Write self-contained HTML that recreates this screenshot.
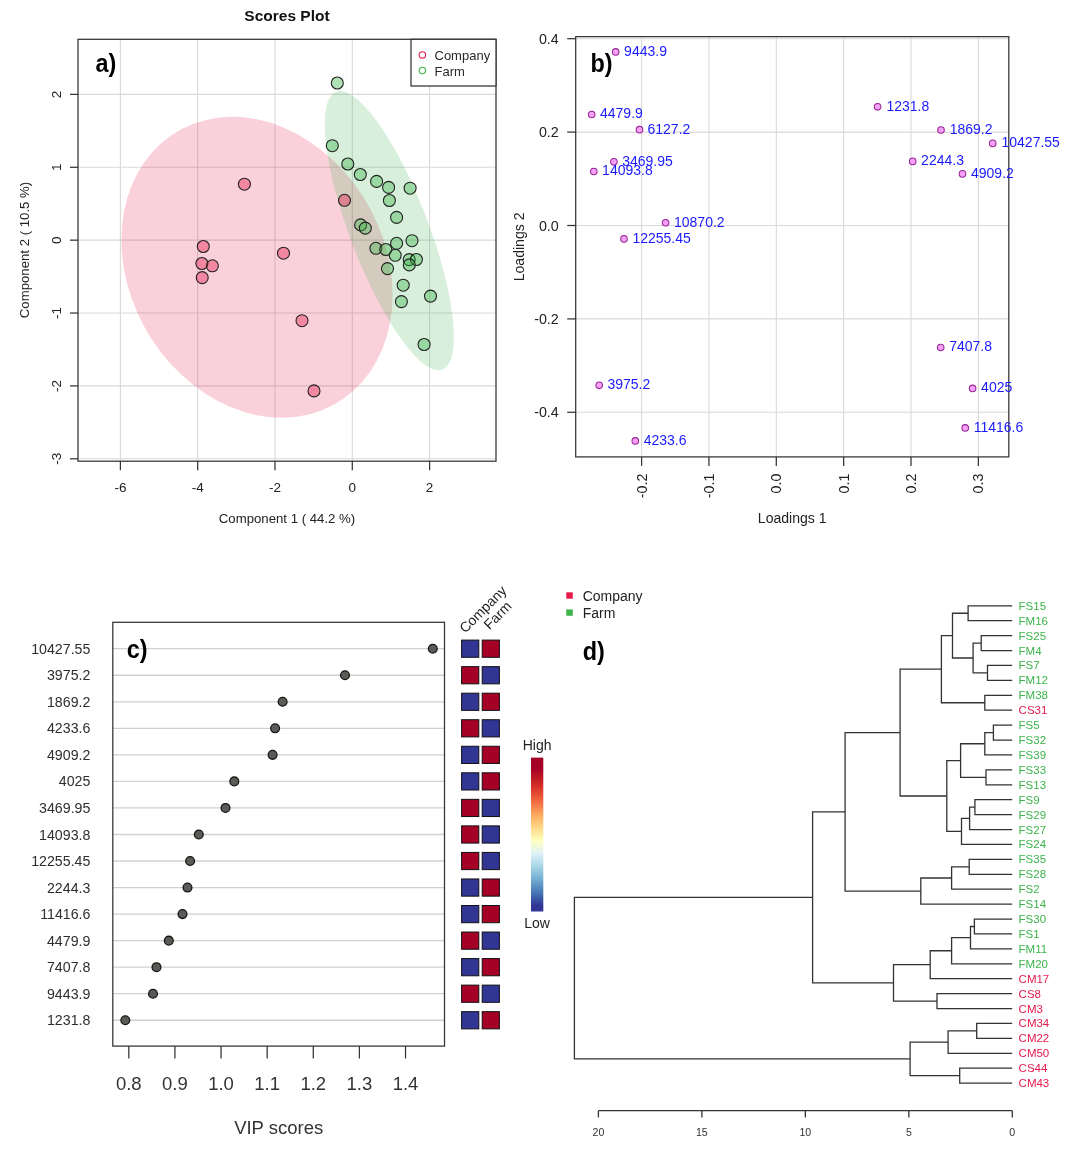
<!DOCTYPE html>
<html><head><meta charset="utf-8"><style>
html,body{margin:0;padding:0;background:#fff;}
svg{display:block;will-change:transform;}
text{font-family:"Liberation Sans", sans-serif;}
</style></head><body>
<svg width="1072" height="1158" viewBox="0 0 1072 1158">
<rect width="1072" height="1158" fill="#fff"/>
<line x1="120.40" y1="39.3" x2="120.40" y2="461.2" stroke="#d9d9d9" stroke-width="1.1"/>
<line x1="197.70" y1="39.3" x2="197.70" y2="461.2" stroke="#d9d9d9" stroke-width="1.1"/>
<line x1="275.00" y1="39.3" x2="275.00" y2="461.2" stroke="#d9d9d9" stroke-width="1.1"/>
<line x1="352.30" y1="39.3" x2="352.30" y2="461.2" stroke="#d9d9d9" stroke-width="1.1"/>
<line x1="429.60" y1="39.3" x2="429.60" y2="461.2" stroke="#d9d9d9" stroke-width="1.1"/>
<line x1="78.0" y1="458.80" x2="496.0" y2="458.80" stroke="#d9d9d9" stroke-width="1.1"/>
<line x1="78.0" y1="385.92" x2="496.0" y2="385.92" stroke="#d9d9d9" stroke-width="1.1"/>
<line x1="78.0" y1="313.04" x2="496.0" y2="313.04" stroke="#d9d9d9" stroke-width="1.1"/>
<line x1="78.0" y1="240.16" x2="496.0" y2="240.16" stroke="#d9d9d9" stroke-width="1.1"/>
<line x1="78.0" y1="167.28" x2="496.0" y2="167.28" stroke="#d9d9d9" stroke-width="1.1"/>
<line x1="78.0" y1="94.40" x2="496.0" y2="94.40" stroke="#d9d9d9" stroke-width="1.1"/>
<circle cx="0" cy="0" r="1" fill="rgba(230,25,75,0.2)" transform="matrix(135.5987 27.4339 0 147.9269 257.00 267.30)"/>
<circle cx="0" cy="0" r="1" fill="rgba(60,180,75,0.2)" transform="matrix(64.5523 106.2704 0 90.5240 389.30 230.60)"/>
<circle cx="244.4" cy="184.2" r="6" fill="rgba(230,25,75,0.4)" stroke="#222" stroke-width="1.1"/>
<circle cx="203.3" cy="246.5" r="6" fill="rgba(230,25,75,0.4)" stroke="#222" stroke-width="1.1"/>
<circle cx="201.9" cy="263.5" r="6" fill="rgba(230,25,75,0.4)" stroke="#222" stroke-width="1.1"/>
<circle cx="212.4" cy="265.8" r="6" fill="rgba(230,25,75,0.4)" stroke="#222" stroke-width="1.1"/>
<circle cx="202.2" cy="277.6" r="6" fill="rgba(230,25,75,0.4)" stroke="#222" stroke-width="1.1"/>
<circle cx="283.5" cy="253.2" r="6" fill="rgba(230,25,75,0.4)" stroke="#222" stroke-width="1.1"/>
<circle cx="302" cy="320.7" r="6" fill="rgba(230,25,75,0.4)" stroke="#222" stroke-width="1.1"/>
<circle cx="314" cy="390.9" r="6" fill="rgba(230,25,75,0.4)" stroke="#222" stroke-width="1.1"/>
<circle cx="344.5" cy="200.3" r="6" fill="rgba(230,25,75,0.4)" stroke="#222" stroke-width="1.1"/>
<circle cx="337.3" cy="83" r="6" fill="rgba(60,180,75,0.4)" stroke="#222" stroke-width="1.1"/>
<circle cx="332.3" cy="145.7" r="6" fill="rgba(60,180,75,0.4)" stroke="#222" stroke-width="1.1"/>
<circle cx="347.8" cy="164" r="6" fill="rgba(60,180,75,0.4)" stroke="#222" stroke-width="1.1"/>
<circle cx="360.3" cy="174.5" r="6" fill="rgba(60,180,75,0.4)" stroke="#222" stroke-width="1.1"/>
<circle cx="376.6" cy="181.4" r="6" fill="rgba(60,180,75,0.4)" stroke="#222" stroke-width="1.1"/>
<circle cx="388.6" cy="187.4" r="6" fill="rgba(60,180,75,0.4)" stroke="#222" stroke-width="1.1"/>
<circle cx="410.1" cy="188.2" r="6" fill="rgba(60,180,75,0.4)" stroke="#222" stroke-width="1.1"/>
<circle cx="389.4" cy="200.5" r="6" fill="rgba(60,180,75,0.4)" stroke="#222" stroke-width="1.1"/>
<circle cx="396.6" cy="217.4" r="6" fill="rgba(60,180,75,0.4)" stroke="#222" stroke-width="1.1"/>
<circle cx="360.6" cy="224.9" r="6" fill="rgba(60,180,75,0.4)" stroke="#222" stroke-width="1.1"/>
<circle cx="365.3" cy="228.1" r="6" fill="rgba(60,180,75,0.4)" stroke="#222" stroke-width="1.1"/>
<circle cx="396.6" cy="243.3" r="6" fill="rgba(60,180,75,0.4)" stroke="#222" stroke-width="1.1"/>
<circle cx="412" cy="240.7" r="6" fill="rgba(60,180,75,0.4)" stroke="#222" stroke-width="1.1"/>
<circle cx="375.9" cy="248.3" r="6" fill="rgba(60,180,75,0.4)" stroke="#222" stroke-width="1.1"/>
<circle cx="385.8" cy="249.5" r="6" fill="rgba(60,180,75,0.4)" stroke="#222" stroke-width="1.1"/>
<circle cx="395.2" cy="255.3" r="6" fill="rgba(60,180,75,0.4)" stroke="#222" stroke-width="1.1"/>
<circle cx="409.2" cy="259.6" r="6" fill="rgba(60,180,75,0.4)" stroke="#222" stroke-width="1.1"/>
<circle cx="416.4" cy="259.5" r="6" fill="rgba(60,180,75,0.4)" stroke="#222" stroke-width="1.1"/>
<circle cx="409.3" cy="264.9" r="6" fill="rgba(60,180,75,0.4)" stroke="#222" stroke-width="1.1"/>
<circle cx="387.5" cy="268.6" r="6" fill="rgba(60,180,75,0.4)" stroke="#222" stroke-width="1.1"/>
<circle cx="403.2" cy="285.2" r="6" fill="rgba(60,180,75,0.4)" stroke="#222" stroke-width="1.1"/>
<circle cx="430.5" cy="296.1" r="6" fill="rgba(60,180,75,0.4)" stroke="#222" stroke-width="1.1"/>
<circle cx="401.4" cy="301.6" r="6" fill="rgba(60,180,75,0.4)" stroke="#222" stroke-width="1.1"/>
<circle cx="424.1" cy="344.5" r="6" fill="rgba(60,180,75,0.4)" stroke="#222" stroke-width="1.1"/>
<rect x="78.0" y="39.3" width="418.0" height="421.9" fill="none" stroke="#333" stroke-width="1.25"/>
<line x1="120.40" y1="461.2" x2="120.40" y2="470.2" stroke="#333" stroke-width="1.25"/>
<text x="120.40" y="491.70" font-size="13.5" text-anchor="middle" fill="#222" font-weight="normal">-6</text>
<line x1="197.70" y1="461.2" x2="197.70" y2="470.2" stroke="#333" stroke-width="1.25"/>
<text x="197.70" y="491.70" font-size="13.5" text-anchor="middle" fill="#222" font-weight="normal">-4</text>
<line x1="275.00" y1="461.2" x2="275.00" y2="470.2" stroke="#333" stroke-width="1.25"/>
<text x="275.00" y="491.70" font-size="13.5" text-anchor="middle" fill="#222" font-weight="normal">-2</text>
<line x1="352.30" y1="461.2" x2="352.30" y2="470.2" stroke="#333" stroke-width="1.25"/>
<text x="352.30" y="491.70" font-size="13.5" text-anchor="middle" fill="#222" font-weight="normal">0</text>
<line x1="429.60" y1="461.2" x2="429.60" y2="470.2" stroke="#333" stroke-width="1.25"/>
<text x="429.60" y="491.70" font-size="13.5" text-anchor="middle" fill="#222" font-weight="normal">2</text>
<line x1="70.0" y1="458.80" x2="78.0" y2="458.80" stroke="#333" stroke-width="1.25"/>
<text x="61.30" y="458.80" font-size="13.5" text-anchor="middle" fill="#222" font-weight="normal" transform="rotate(-90 61.30 458.80)">-3</text>
<line x1="70.0" y1="385.92" x2="78.0" y2="385.92" stroke="#333" stroke-width="1.25"/>
<text x="61.30" y="385.92" font-size="13.5" text-anchor="middle" fill="#222" font-weight="normal" transform="rotate(-90 61.30 385.92)">-2</text>
<line x1="70.0" y1="313.04" x2="78.0" y2="313.04" stroke="#333" stroke-width="1.25"/>
<text x="61.30" y="313.04" font-size="13.5" text-anchor="middle" fill="#222" font-weight="normal" transform="rotate(-90 61.30 313.04)">-1</text>
<line x1="70.0" y1="240.16" x2="78.0" y2="240.16" stroke="#333" stroke-width="1.25"/>
<text x="61.30" y="240.16" font-size="13.5" text-anchor="middle" fill="#222" font-weight="normal" transform="rotate(-90 61.30 240.16)">0</text>
<line x1="70.0" y1="167.28" x2="78.0" y2="167.28" stroke="#333" stroke-width="1.25"/>
<text x="61.30" y="167.28" font-size="13.5" text-anchor="middle" fill="#222" font-weight="normal" transform="rotate(-90 61.30 167.28)">1</text>
<line x1="70.0" y1="94.40" x2="78.0" y2="94.40" stroke="#333" stroke-width="1.25"/>
<text x="61.30" y="94.40" font-size="13.5" text-anchor="middle" fill="#222" font-weight="normal" transform="rotate(-90 61.30 94.40)">2</text>
<text x="287.00" y="523.00" font-size="13.2" text-anchor="middle" fill="#222" font-weight="normal">Component 1 ( 44.2 %)</text>
<text x="29.40" y="250.00" font-size="13.2" text-anchor="middle" fill="#222" font-weight="normal" transform="rotate(-90 29.40 250.00)">Component 2 ( 10.5 %)</text>
<text x="287.00" y="21.30" font-size="15.5" text-anchor="middle" fill="#111" font-weight="bold">Scores Plot</text>
<rect x="411" y="39.3" width="85.0" height="46.7" fill="#fff" stroke="#333" stroke-width="1.25"/>
<circle cx="422.4" cy="54.9" r="3.2" fill="none" stroke="#e6194b" stroke-width="1.1"/>
<circle cx="422.4" cy="70.5" r="3.2" fill="none" stroke="#3cb44b" stroke-width="1.1"/>
<text x="434.50" y="60.40" font-size="13" text-anchor="start" fill="#2a2a2a" font-weight="normal">Company</text>
<text x="434.50" y="75.60" font-size="13" text-anchor="start" fill="#2a2a2a" font-weight="normal">Farm</text>
<text transform="translate(95.50 72.00) scale(0.9 1)" font-size="26" fill="#000" font-weight="bold">a)</text>
<line x1="641.60" y1="36.65" x2="641.60" y2="456.9" stroke="#d9d9d9" stroke-width="1.1"/>
<line x1="708.95" y1="36.65" x2="708.95" y2="456.9" stroke="#d9d9d9" stroke-width="1.1"/>
<line x1="776.30" y1="36.65" x2="776.30" y2="456.9" stroke="#d9d9d9" stroke-width="1.1"/>
<line x1="843.65" y1="36.65" x2="843.65" y2="456.9" stroke="#d9d9d9" stroke-width="1.1"/>
<line x1="911.00" y1="36.65" x2="911.00" y2="456.9" stroke="#d9d9d9" stroke-width="1.1"/>
<line x1="978.35" y1="36.65" x2="978.35" y2="456.9" stroke="#d9d9d9" stroke-width="1.1"/>
<line x1="575.7" y1="412.30" x2="1008.8" y2="412.30" stroke="#d9d9d9" stroke-width="1.1"/>
<line x1="575.7" y1="318.90" x2="1008.8" y2="318.90" stroke="#d9d9d9" stroke-width="1.1"/>
<line x1="575.7" y1="225.50" x2="1008.8" y2="225.50" stroke="#d9d9d9" stroke-width="1.1"/>
<line x1="575.7" y1="132.10" x2="1008.8" y2="132.10" stroke="#d9d9d9" stroke-width="1.1"/>
<line x1="575.7" y1="38.70" x2="1008.8" y2="38.70" stroke="#d9d9d9" stroke-width="1.1"/>
<rect x="575.7" y="36.65" width="433.0999999999999" height="420.25" fill="none" stroke="#333" stroke-width="1.25"/>
<line x1="641.60" y1="456.9" x2="641.60" y2="465.9" stroke="#333" stroke-width="1.25"/>
<text x="646.70" y="473.50" font-size="14.3" text-anchor="end" fill="#222" font-weight="normal" transform="rotate(-90 646.70 473.50)">-0.2</text>
<line x1="708.95" y1="456.9" x2="708.95" y2="465.9" stroke="#333" stroke-width="1.25"/>
<text x="714.05" y="473.50" font-size="14.3" text-anchor="end" fill="#222" font-weight="normal" transform="rotate(-90 714.05 473.50)">-0.1</text>
<line x1="776.30" y1="456.9" x2="776.30" y2="465.9" stroke="#333" stroke-width="1.25"/>
<text x="781.40" y="473.50" font-size="14.3" text-anchor="end" fill="#222" font-weight="normal" transform="rotate(-90 781.40 473.50)">0.0</text>
<line x1="843.65" y1="456.9" x2="843.65" y2="465.9" stroke="#333" stroke-width="1.25"/>
<text x="848.75" y="473.50" font-size="14.3" text-anchor="end" fill="#222" font-weight="normal" transform="rotate(-90 848.75 473.50)">0.1</text>
<line x1="911.00" y1="456.9" x2="911.00" y2="465.9" stroke="#333" stroke-width="1.25"/>
<text x="916.10" y="473.50" font-size="14.3" text-anchor="end" fill="#222" font-weight="normal" transform="rotate(-90 916.10 473.50)">0.2</text>
<line x1="978.35" y1="456.9" x2="978.35" y2="465.9" stroke="#333" stroke-width="1.25"/>
<text x="983.45" y="473.50" font-size="14.3" text-anchor="end" fill="#222" font-weight="normal" transform="rotate(-90 983.45 473.50)">0.3</text>
<line x1="567.2" y1="412.30" x2="575.7" y2="412.30" stroke="#333" stroke-width="1.25"/>
<text x="558.80" y="417.40" font-size="14.3" text-anchor="end" fill="#222" font-weight="normal">-0.4</text>
<line x1="567.2" y1="318.90" x2="575.7" y2="318.90" stroke="#333" stroke-width="1.25"/>
<text x="558.80" y="324.00" font-size="14.3" text-anchor="end" fill="#222" font-weight="normal">-0.2</text>
<line x1="567.2" y1="225.50" x2="575.7" y2="225.50" stroke="#333" stroke-width="1.25"/>
<text x="558.80" y="230.60" font-size="14.3" text-anchor="end" fill="#222" font-weight="normal">0.0</text>
<line x1="567.2" y1="132.10" x2="575.7" y2="132.10" stroke="#333" stroke-width="1.25"/>
<text x="558.80" y="137.20" font-size="14.3" text-anchor="end" fill="#222" font-weight="normal">0.2</text>
<line x1="567.2" y1="38.70" x2="575.7" y2="38.70" stroke="#333" stroke-width="1.25"/>
<text x="558.80" y="43.80" font-size="14.3" text-anchor="end" fill="#222" font-weight="normal">0.4</text>
<text x="792.20" y="523.20" font-size="14.05" text-anchor="middle" fill="#222" font-weight="normal">Loadings 1</text>
<text x="524.30" y="246.90" font-size="14.05" text-anchor="middle" fill="#222" font-weight="normal" transform="rotate(-90 524.30 246.90)">Loadings 2</text>
<circle cx="615.7" cy="51.9" r="3.3" fill="#f7a0f7" stroke="#962596" stroke-width="1.05"/>
<circle cx="591.7" cy="114.5" r="3.3" fill="#f7a0f7" stroke="#962596" stroke-width="1.05"/>
<circle cx="639.5" cy="129.7" r="3.3" fill="#f7a0f7" stroke="#962596" stroke-width="1.05"/>
<circle cx="613.9" cy="161.8" r="3.3" fill="#f7a0f7" stroke="#962596" stroke-width="1.05"/>
<circle cx="593.8" cy="171.5" r="3.3" fill="#f7a0f7" stroke="#962596" stroke-width="1.05"/>
<circle cx="665.6" cy="222.7" r="3.3" fill="#f7a0f7" stroke="#962596" stroke-width="1.05"/>
<circle cx="624" cy="238.9" r="3.3" fill="#f7a0f7" stroke="#962596" stroke-width="1.05"/>
<circle cx="877.6" cy="106.8" r="3.3" fill="#f7a0f7" stroke="#962596" stroke-width="1.05"/>
<circle cx="941" cy="130" r="3.3" fill="#f7a0f7" stroke="#962596" stroke-width="1.05"/>
<circle cx="992.7" cy="143.4" r="3.3" fill="#f7a0f7" stroke="#962596" stroke-width="1.05"/>
<circle cx="912.7" cy="161.4" r="3.3" fill="#f7a0f7" stroke="#962596" stroke-width="1.05"/>
<circle cx="962.5" cy="173.9" r="3.3" fill="#f7a0f7" stroke="#962596" stroke-width="1.05"/>
<circle cx="599.2" cy="385.3" r="3.3" fill="#f7a0f7" stroke="#962596" stroke-width="1.05"/>
<circle cx="635.3" cy="440.9" r="3.3" fill="#f7a0f7" stroke="#962596" stroke-width="1.05"/>
<circle cx="940.7" cy="347.5" r="3.3" fill="#f7a0f7" stroke="#962596" stroke-width="1.05"/>
<circle cx="972.6" cy="388.4" r="3.3" fill="#f7a0f7" stroke="#962596" stroke-width="1.05"/>
<circle cx="965.2" cy="427.9" r="3.3" fill="#f7a0f7" stroke="#962596" stroke-width="1.05"/>
<text x="624.10" y="55.80" font-size="14" text-anchor="start" fill="#1a1aff" font-weight="normal">9443.9</text>
<text x="600.00" y="118.40" font-size="14" text-anchor="start" fill="#1a1aff" font-weight="normal">4479.9</text>
<text x="647.50" y="133.60" font-size="14" text-anchor="start" fill="#1a1aff" font-weight="normal">6127.2</text>
<text x="622.20" y="165.70" font-size="14" text-anchor="start" fill="#1a1aff" font-weight="normal">3469.95</text>
<text x="602.10" y="175.40" font-size="14" text-anchor="start" fill="#1a1aff" font-weight="normal">14093.8</text>
<text x="674.00" y="226.60" font-size="14" text-anchor="start" fill="#1a1aff" font-weight="normal">10870.2</text>
<text x="632.40" y="242.80" font-size="14" text-anchor="start" fill="#1a1aff" font-weight="normal">12255.45</text>
<text x="886.40" y="110.70" font-size="14" text-anchor="start" fill="#1a1aff" font-weight="normal">1231.8</text>
<text x="949.70" y="133.90" font-size="14" text-anchor="start" fill="#1a1aff" font-weight="normal">1869.2</text>
<text x="1001.50" y="147.30" font-size="14" text-anchor="start" fill="#1a1aff" font-weight="normal">10427.55</text>
<text x="921.10" y="165.30" font-size="14" text-anchor="start" fill="#1a1aff" font-weight="normal">2244.3</text>
<text x="971.00" y="177.80" font-size="14" text-anchor="start" fill="#1a1aff" font-weight="normal">4909.2</text>
<text x="607.40" y="389.20" font-size="14" text-anchor="start" fill="#1a1aff" font-weight="normal">3975.2</text>
<text x="643.70" y="444.80" font-size="14" text-anchor="start" fill="#1a1aff" font-weight="normal">4233.6</text>
<text x="949.20" y="351.40" font-size="14" text-anchor="start" fill="#1a1aff" font-weight="normal">7407.8</text>
<text x="981.10" y="392.30" font-size="14" text-anchor="start" fill="#1a1aff" font-weight="normal">4025</text>
<text x="973.70" y="431.80" font-size="14" text-anchor="start" fill="#1a1aff" font-weight="normal">11416.6</text>
<text transform="translate(590.50 71.80) scale(0.9 1)" font-size="26" fill="#000" font-weight="bold">b)</text>
<line x1="112.8" y1="648.70" x2="444.5" y2="648.70" stroke="#d0d0d0" stroke-width="1.3"/>
<line x1="112.8" y1="675.24" x2="444.5" y2="675.24" stroke="#d0d0d0" stroke-width="1.3"/>
<line x1="112.8" y1="701.78" x2="444.5" y2="701.78" stroke="#d0d0d0" stroke-width="1.3"/>
<line x1="112.8" y1="728.32" x2="444.5" y2="728.32" stroke="#d0d0d0" stroke-width="1.3"/>
<line x1="112.8" y1="754.86" x2="444.5" y2="754.86" stroke="#d0d0d0" stroke-width="1.3"/>
<line x1="112.8" y1="781.40" x2="444.5" y2="781.40" stroke="#d0d0d0" stroke-width="1.3"/>
<line x1="112.8" y1="807.94" x2="444.5" y2="807.94" stroke="#d0d0d0" stroke-width="1.3"/>
<line x1="112.8" y1="834.48" x2="444.5" y2="834.48" stroke="#d0d0d0" stroke-width="1.3"/>
<line x1="112.8" y1="861.02" x2="444.5" y2="861.02" stroke="#d0d0d0" stroke-width="1.3"/>
<line x1="112.8" y1="887.56" x2="444.5" y2="887.56" stroke="#d0d0d0" stroke-width="1.3"/>
<line x1="112.8" y1="914.10" x2="444.5" y2="914.10" stroke="#d0d0d0" stroke-width="1.3"/>
<line x1="112.8" y1="940.64" x2="444.5" y2="940.64" stroke="#d0d0d0" stroke-width="1.3"/>
<line x1="112.8" y1="967.18" x2="444.5" y2="967.18" stroke="#d0d0d0" stroke-width="1.3"/>
<line x1="112.8" y1="993.72" x2="444.5" y2="993.72" stroke="#d0d0d0" stroke-width="1.3"/>
<line x1="112.8" y1="1020.26" x2="444.5" y2="1020.26" stroke="#d0d0d0" stroke-width="1.3"/>
<rect x="112.8" y="622.3" width="331.7" height="423.79999999999995" fill="none" stroke="#333" stroke-width="1.25"/>
<text x="90.40" y="653.75" font-size="14.2" text-anchor="end" fill="#2e2e2e" font-weight="normal">10427.55</text>
<circle cx="432.80" cy="648.70" r="4.4" fill="#5a5a56" stroke="#151515" stroke-width="1.3"/>
<rect x="461.6" y="640.10" width="17.2" height="17.2" fill="#313695" stroke="#111" stroke-width="1"/>
<rect x="482.2" y="640.10" width="17.2" height="17.2" fill="#a50026" stroke="#111" stroke-width="1"/>
<text x="90.40" y="680.29" font-size="14.2" text-anchor="end" fill="#2e2e2e" font-weight="normal">3975.2</text>
<circle cx="345.00" cy="675.24" r="4.4" fill="#5a5a56" stroke="#151515" stroke-width="1.3"/>
<rect x="461.6" y="666.64" width="17.2" height="17.2" fill="#a50026" stroke="#111" stroke-width="1"/>
<rect x="482.2" y="666.64" width="17.2" height="17.2" fill="#313695" stroke="#111" stroke-width="1"/>
<text x="90.40" y="706.83" font-size="14.2" text-anchor="end" fill="#2e2e2e" font-weight="normal">1869.2</text>
<circle cx="282.60" cy="701.78" r="4.4" fill="#5a5a56" stroke="#151515" stroke-width="1.3"/>
<rect x="461.6" y="693.18" width="17.2" height="17.2" fill="#313695" stroke="#111" stroke-width="1"/>
<rect x="482.2" y="693.18" width="17.2" height="17.2" fill="#a50026" stroke="#111" stroke-width="1"/>
<text x="90.40" y="733.37" font-size="14.2" text-anchor="end" fill="#2e2e2e" font-weight="normal">4233.6</text>
<circle cx="275.10" cy="728.32" r="4.4" fill="#5a5a56" stroke="#151515" stroke-width="1.3"/>
<rect x="461.6" y="719.72" width="17.2" height="17.2" fill="#a50026" stroke="#111" stroke-width="1"/>
<rect x="482.2" y="719.72" width="17.2" height="17.2" fill="#313695" stroke="#111" stroke-width="1"/>
<text x="90.40" y="759.91" font-size="14.2" text-anchor="end" fill="#2e2e2e" font-weight="normal">4909.2</text>
<circle cx="272.60" cy="754.86" r="4.4" fill="#5a5a56" stroke="#151515" stroke-width="1.3"/>
<rect x="461.6" y="746.26" width="17.2" height="17.2" fill="#313695" stroke="#111" stroke-width="1"/>
<rect x="482.2" y="746.26" width="17.2" height="17.2" fill="#a50026" stroke="#111" stroke-width="1"/>
<text x="90.40" y="786.45" font-size="14.2" text-anchor="end" fill="#2e2e2e" font-weight="normal">4025</text>
<circle cx="234.30" cy="781.40" r="4.4" fill="#5a5a56" stroke="#151515" stroke-width="1.3"/>
<rect x="461.6" y="772.80" width="17.2" height="17.2" fill="#313695" stroke="#111" stroke-width="1"/>
<rect x="482.2" y="772.80" width="17.2" height="17.2" fill="#a50026" stroke="#111" stroke-width="1"/>
<text x="90.40" y="812.99" font-size="14.2" text-anchor="end" fill="#2e2e2e" font-weight="normal">3469.95</text>
<circle cx="225.50" cy="807.94" r="4.4" fill="#5a5a56" stroke="#151515" stroke-width="1.3"/>
<rect x="461.6" y="799.34" width="17.2" height="17.2" fill="#a50026" stroke="#111" stroke-width="1"/>
<rect x="482.2" y="799.34" width="17.2" height="17.2" fill="#313695" stroke="#111" stroke-width="1"/>
<text x="90.40" y="839.53" font-size="14.2" text-anchor="end" fill="#2e2e2e" font-weight="normal">14093.8</text>
<circle cx="198.80" cy="834.48" r="4.4" fill="#5a5a56" stroke="#151515" stroke-width="1.3"/>
<rect x="461.6" y="825.88" width="17.2" height="17.2" fill="#a50026" stroke="#111" stroke-width="1"/>
<rect x="482.2" y="825.88" width="17.2" height="17.2" fill="#313695" stroke="#111" stroke-width="1"/>
<text x="90.40" y="866.07" font-size="14.2" text-anchor="end" fill="#2e2e2e" font-weight="normal">12255.45</text>
<circle cx="190.10" cy="861.02" r="4.4" fill="#5a5a56" stroke="#151515" stroke-width="1.3"/>
<rect x="461.6" y="852.42" width="17.2" height="17.2" fill="#a50026" stroke="#111" stroke-width="1"/>
<rect x="482.2" y="852.42" width="17.2" height="17.2" fill="#313695" stroke="#111" stroke-width="1"/>
<text x="90.40" y="892.61" font-size="14.2" text-anchor="end" fill="#2e2e2e" font-weight="normal">2244.3</text>
<circle cx="187.50" cy="887.56" r="4.4" fill="#5a5a56" stroke="#151515" stroke-width="1.3"/>
<rect x="461.6" y="878.96" width="17.2" height="17.2" fill="#313695" stroke="#111" stroke-width="1"/>
<rect x="482.2" y="878.96" width="17.2" height="17.2" fill="#a50026" stroke="#111" stroke-width="1"/>
<text x="90.40" y="919.15" font-size="14.2" text-anchor="end" fill="#2e2e2e" font-weight="normal">11416.6</text>
<circle cx="182.50" cy="914.10" r="4.4" fill="#5a5a56" stroke="#151515" stroke-width="1.3"/>
<rect x="461.6" y="905.50" width="17.2" height="17.2" fill="#313695" stroke="#111" stroke-width="1"/>
<rect x="482.2" y="905.50" width="17.2" height="17.2" fill="#a50026" stroke="#111" stroke-width="1"/>
<text x="90.40" y="945.69" font-size="14.2" text-anchor="end" fill="#2e2e2e" font-weight="normal">4479.9</text>
<circle cx="168.80" cy="940.64" r="4.4" fill="#5a5a56" stroke="#151515" stroke-width="1.3"/>
<rect x="461.6" y="932.04" width="17.2" height="17.2" fill="#a50026" stroke="#111" stroke-width="1"/>
<rect x="482.2" y="932.04" width="17.2" height="17.2" fill="#313695" stroke="#111" stroke-width="1"/>
<text x="90.40" y="972.23" font-size="14.2" text-anchor="end" fill="#2e2e2e" font-weight="normal">7407.8</text>
<circle cx="156.50" cy="967.18" r="4.4" fill="#5a5a56" stroke="#151515" stroke-width="1.3"/>
<rect x="461.6" y="958.58" width="17.2" height="17.2" fill="#313695" stroke="#111" stroke-width="1"/>
<rect x="482.2" y="958.58" width="17.2" height="17.2" fill="#a50026" stroke="#111" stroke-width="1"/>
<text x="90.40" y="998.77" font-size="14.2" text-anchor="end" fill="#2e2e2e" font-weight="normal">9443.9</text>
<circle cx="153.00" cy="993.72" r="4.4" fill="#5a5a56" stroke="#151515" stroke-width="1.3"/>
<rect x="461.6" y="985.12" width="17.2" height="17.2" fill="#a50026" stroke="#111" stroke-width="1"/>
<rect x="482.2" y="985.12" width="17.2" height="17.2" fill="#313695" stroke="#111" stroke-width="1"/>
<text x="90.40" y="1025.31" font-size="14.2" text-anchor="end" fill="#2e2e2e" font-weight="normal">1231.8</text>
<circle cx="125.30" cy="1020.26" r="4.4" fill="#5a5a56" stroke="#151515" stroke-width="1.3"/>
<rect x="461.6" y="1011.66" width="17.2" height="17.2" fill="#313695" stroke="#111" stroke-width="1"/>
<rect x="482.2" y="1011.66" width="17.2" height="17.2" fill="#a50026" stroke="#111" stroke-width="1"/>
<line x1="128.80" y1="1046.1" x2="128.80" y2="1058.5" stroke="#333" stroke-width="1.25"/>
<text x="128.80" y="1089.70" font-size="18.5" text-anchor="middle" fill="#333" font-weight="normal">0.8</text>
<line x1="174.92" y1="1046.1" x2="174.92" y2="1058.5" stroke="#333" stroke-width="1.25"/>
<text x="174.92" y="1089.70" font-size="18.5" text-anchor="middle" fill="#333" font-weight="normal">0.9</text>
<line x1="221.04" y1="1046.1" x2="221.04" y2="1058.5" stroke="#333" stroke-width="1.25"/>
<text x="221.04" y="1089.70" font-size="18.5" text-anchor="middle" fill="#333" font-weight="normal">1.0</text>
<line x1="267.16" y1="1046.1" x2="267.16" y2="1058.5" stroke="#333" stroke-width="1.25"/>
<text x="267.16" y="1089.70" font-size="18.5" text-anchor="middle" fill="#333" font-weight="normal">1.1</text>
<line x1="313.28" y1="1046.1" x2="313.28" y2="1058.5" stroke="#333" stroke-width="1.25"/>
<text x="313.28" y="1089.70" font-size="18.5" text-anchor="middle" fill="#333" font-weight="normal">1.2</text>
<line x1="359.40" y1="1046.1" x2="359.40" y2="1058.5" stroke="#333" stroke-width="1.25"/>
<text x="359.40" y="1089.70" font-size="18.5" text-anchor="middle" fill="#333" font-weight="normal">1.3</text>
<line x1="405.52" y1="1046.1" x2="405.52" y2="1058.5" stroke="#333" stroke-width="1.25"/>
<text x="405.52" y="1089.70" font-size="18.5" text-anchor="middle" fill="#333" font-weight="normal">1.4</text>
<text x="278.70" y="1134.00" font-size="18.5" text-anchor="middle" fill="#333" font-weight="normal">VIP scores</text>
<text transform="translate(126.80 658.40) scale(0.9 1)" font-size="26" fill="#000" font-weight="bold">c)</text>
<text x="465.20" y="633.80" font-size="14" text-anchor="start" fill="#222" font-weight="normal" transform="rotate(-45 465.20 633.80)">Company</text>
<text x="489.50" y="630.20" font-size="14" text-anchor="start" fill="#222" font-weight="normal" transform="rotate(-45 489.50 630.20)">Farm</text>
<defs><linearGradient id="rdylbu" x1="0" y1="0" x2="0" y2="1"><stop offset="0" stop-color="#a50026"/><stop offset="0.07" stop-color="#a50026"/><stop offset="0.19" stop-color="#d73027"/><stop offset="0.29" stop-color="#f46d43"/><stop offset="0.38" stop-color="#fdae61"/><stop offset="0.47" stop-color="#fee090"/><stop offset="0.54" stop-color="#ffffbf"/><stop offset="0.62" stop-color="#e0f3f8"/><stop offset="0.7" stop-color="#abd9e9"/><stop offset="0.79" stop-color="#74add1"/><stop offset="0.88" stop-color="#4575b4"/><stop offset="0.96" stop-color="#313695"/><stop offset="1" stop-color="#313695"/></linearGradient></defs>
<rect x="531" y="757.6" width="12.3" height="153.9" fill="url(#rdylbu)"/>
<text x="537.10" y="750.00" font-size="14" text-anchor="middle" fill="#222" font-weight="normal">High</text>
<text x="537.10" y="927.50" font-size="14" text-anchor="middle" fill="#222" font-weight="normal">Low</text>
<path d="M1012.20 605.80H968.10V620.72H1012.20M1012.20 635.63H981.20V650.55H1012.20M1012.20 665.46H987.50V680.38H1012.20M981.20 643.09H973.10V672.92H987.50M968.10 613.26H952.50V658.01H973.10M1012.20 695.30H984.80V710.21H1012.20M952.50 635.63H941.40V702.75H984.80M1012.20 725.13H993.40V740.04H1012.20M993.40 732.59H984.80V754.96H1012.20M1012.20 769.88H986.00V784.79H1012.20M984.80 743.77H960.60V777.33H986.00M1012.20 799.71H974.90V814.62H1012.20M974.90 807.17H969.60V829.54H1012.20M969.60 818.35H961.50V844.46H1012.20M960.60 760.55H946.80V831.40H961.50M941.40 669.19H900.10V795.98H946.80M1012.20 859.37H969.20V874.29H1012.20M969.20 866.83H951.60V889.20H1012.20M951.60 878.02H920.80V904.12H1012.20M900.10 732.59H845.10V891.07H920.80M1012.20 919.04H974.40V933.95H1012.20M974.40 926.49H970.50V948.87H1012.20M970.50 937.68H951.60V963.78H1012.20M951.60 950.73H930.20V978.70H1012.20M1012.20 993.62H937.00V1008.53H1012.20M930.20 964.72H893.50V1001.07H937.00M845.10 811.83H812.60V982.90H893.50M1012.20 1023.45H976.70V1038.36H1012.20M976.70 1030.91H948.10V1053.28H1012.20M1012.20 1068.20H959.70V1083.11H1012.20M948.10 1042.09H910.10V1075.65H959.70M812.60 897.36H574.40V1058.87H910.10" fill="none" stroke="#333" stroke-width="1.3"/>
<text x="1018.60" y="609.80" font-size="11.5" text-anchor="start" fill="#3cb44b" font-weight="normal">FS15</text>
<text x="1018.60" y="624.72" font-size="11.5" text-anchor="start" fill="#3cb44b" font-weight="normal">FM16</text>
<text x="1018.60" y="639.63" font-size="11.5" text-anchor="start" fill="#3cb44b" font-weight="normal">FS25</text>
<text x="1018.60" y="654.55" font-size="11.5" text-anchor="start" fill="#3cb44b" font-weight="normal">FM4</text>
<text x="1018.60" y="669.46" font-size="11.5" text-anchor="start" fill="#3cb44b" font-weight="normal">FS7</text>
<text x="1018.60" y="684.38" font-size="11.5" text-anchor="start" fill="#3cb44b" font-weight="normal">FM12</text>
<text x="1018.60" y="699.30" font-size="11.5" text-anchor="start" fill="#3cb44b" font-weight="normal">FM38</text>
<text x="1018.60" y="714.21" font-size="11.5" text-anchor="start" fill="#e6194b" font-weight="normal">CS31</text>
<text x="1018.60" y="729.13" font-size="11.5" text-anchor="start" fill="#3cb44b" font-weight="normal">FS5</text>
<text x="1018.60" y="744.04" font-size="11.5" text-anchor="start" fill="#3cb44b" font-weight="normal">FS32</text>
<text x="1018.60" y="758.96" font-size="11.5" text-anchor="start" fill="#3cb44b" font-weight="normal">FS39</text>
<text x="1018.60" y="773.88" font-size="11.5" text-anchor="start" fill="#3cb44b" font-weight="normal">FS33</text>
<text x="1018.60" y="788.79" font-size="11.5" text-anchor="start" fill="#3cb44b" font-weight="normal">FS13</text>
<text x="1018.60" y="803.71" font-size="11.5" text-anchor="start" fill="#3cb44b" font-weight="normal">FS9</text>
<text x="1018.60" y="818.62" font-size="11.5" text-anchor="start" fill="#3cb44b" font-weight="normal">FS29</text>
<text x="1018.60" y="833.54" font-size="11.5" text-anchor="start" fill="#3cb44b" font-weight="normal">FS27</text>
<text x="1018.60" y="848.46" font-size="11.5" text-anchor="start" fill="#3cb44b" font-weight="normal">FS24</text>
<text x="1018.60" y="863.37" font-size="11.5" text-anchor="start" fill="#3cb44b" font-weight="normal">FS35</text>
<text x="1018.60" y="878.29" font-size="11.5" text-anchor="start" fill="#3cb44b" font-weight="normal">FS28</text>
<text x="1018.60" y="893.20" font-size="11.5" text-anchor="start" fill="#3cb44b" font-weight="normal">FS2</text>
<text x="1018.60" y="908.12" font-size="11.5" text-anchor="start" fill="#3cb44b" font-weight="normal">FS14</text>
<text x="1018.60" y="923.04" font-size="11.5" text-anchor="start" fill="#3cb44b" font-weight="normal">FS30</text>
<text x="1018.60" y="937.95" font-size="11.5" text-anchor="start" fill="#3cb44b" font-weight="normal">FS1</text>
<text x="1018.60" y="952.87" font-size="11.5" text-anchor="start" fill="#3cb44b" font-weight="normal">FM11</text>
<text x="1018.60" y="967.78" font-size="11.5" text-anchor="start" fill="#3cb44b" font-weight="normal">FM20</text>
<text x="1018.60" y="982.70" font-size="11.5" text-anchor="start" fill="#e6194b" font-weight="normal">CM17</text>
<text x="1018.60" y="997.62" font-size="11.5" text-anchor="start" fill="#e6194b" font-weight="normal">CS8</text>
<text x="1018.60" y="1012.53" font-size="11.5" text-anchor="start" fill="#e6194b" font-weight="normal">CM3</text>
<text x="1018.60" y="1027.45" font-size="11.5" text-anchor="start" fill="#e6194b" font-weight="normal">CM34</text>
<text x="1018.60" y="1042.36" font-size="11.5" text-anchor="start" fill="#e6194b" font-weight="normal">CM22</text>
<text x="1018.60" y="1057.28" font-size="11.5" text-anchor="start" fill="#e6194b" font-weight="normal">CM50</text>
<text x="1018.60" y="1072.20" font-size="11.5" text-anchor="start" fill="#e6194b" font-weight="normal">CS44</text>
<text x="1018.60" y="1087.11" font-size="11.5" text-anchor="start" fill="#e6194b" font-weight="normal">CM43</text>
<path d="M598.4 1110.7H1012.3" stroke="#333" stroke-width="1.3" fill="none"/>
<line x1="598.40" y1="1110.7" x2="598.40" y2="1117.5" stroke="#333" stroke-width="1.3"/>
<text x="598.40" y="1136.30" font-size="10.6" text-anchor="middle" fill="#333" font-weight="normal">20</text>
<line x1="701.88" y1="1110.7" x2="701.88" y2="1117.5" stroke="#333" stroke-width="1.3"/>
<text x="701.88" y="1136.30" font-size="10.6" text-anchor="middle" fill="#333" font-weight="normal">15</text>
<line x1="805.36" y1="1110.7" x2="805.36" y2="1117.5" stroke="#333" stroke-width="1.3"/>
<text x="805.36" y="1136.30" font-size="10.6" text-anchor="middle" fill="#333" font-weight="normal">10</text>
<line x1="908.84" y1="1110.7" x2="908.84" y2="1117.5" stroke="#333" stroke-width="1.3"/>
<text x="908.84" y="1136.30" font-size="10.6" text-anchor="middle" fill="#333" font-weight="normal">5</text>
<line x1="1012.32" y1="1110.7" x2="1012.32" y2="1117.5" stroke="#333" stroke-width="1.3"/>
<text x="1012.32" y="1136.30" font-size="10.6" text-anchor="middle" fill="#333" font-weight="normal">0</text>
<rect x="566.3" y="592.3" width="6.5" height="6.4" fill="#e6194b"/>
<rect x="566.3" y="609.4" width="6.5" height="6.4" fill="#3cb44b"/>
<text x="582.70" y="600.80" font-size="14" text-anchor="start" fill="#222" font-weight="normal">Company</text>
<text x="582.70" y="617.60" font-size="14" text-anchor="start" fill="#222" font-weight="normal">Farm</text>
<text transform="translate(582.80 660.30) scale(0.9 1)" font-size="26" fill="#000" font-weight="bold">d)</text>
</svg>
</body></html>
